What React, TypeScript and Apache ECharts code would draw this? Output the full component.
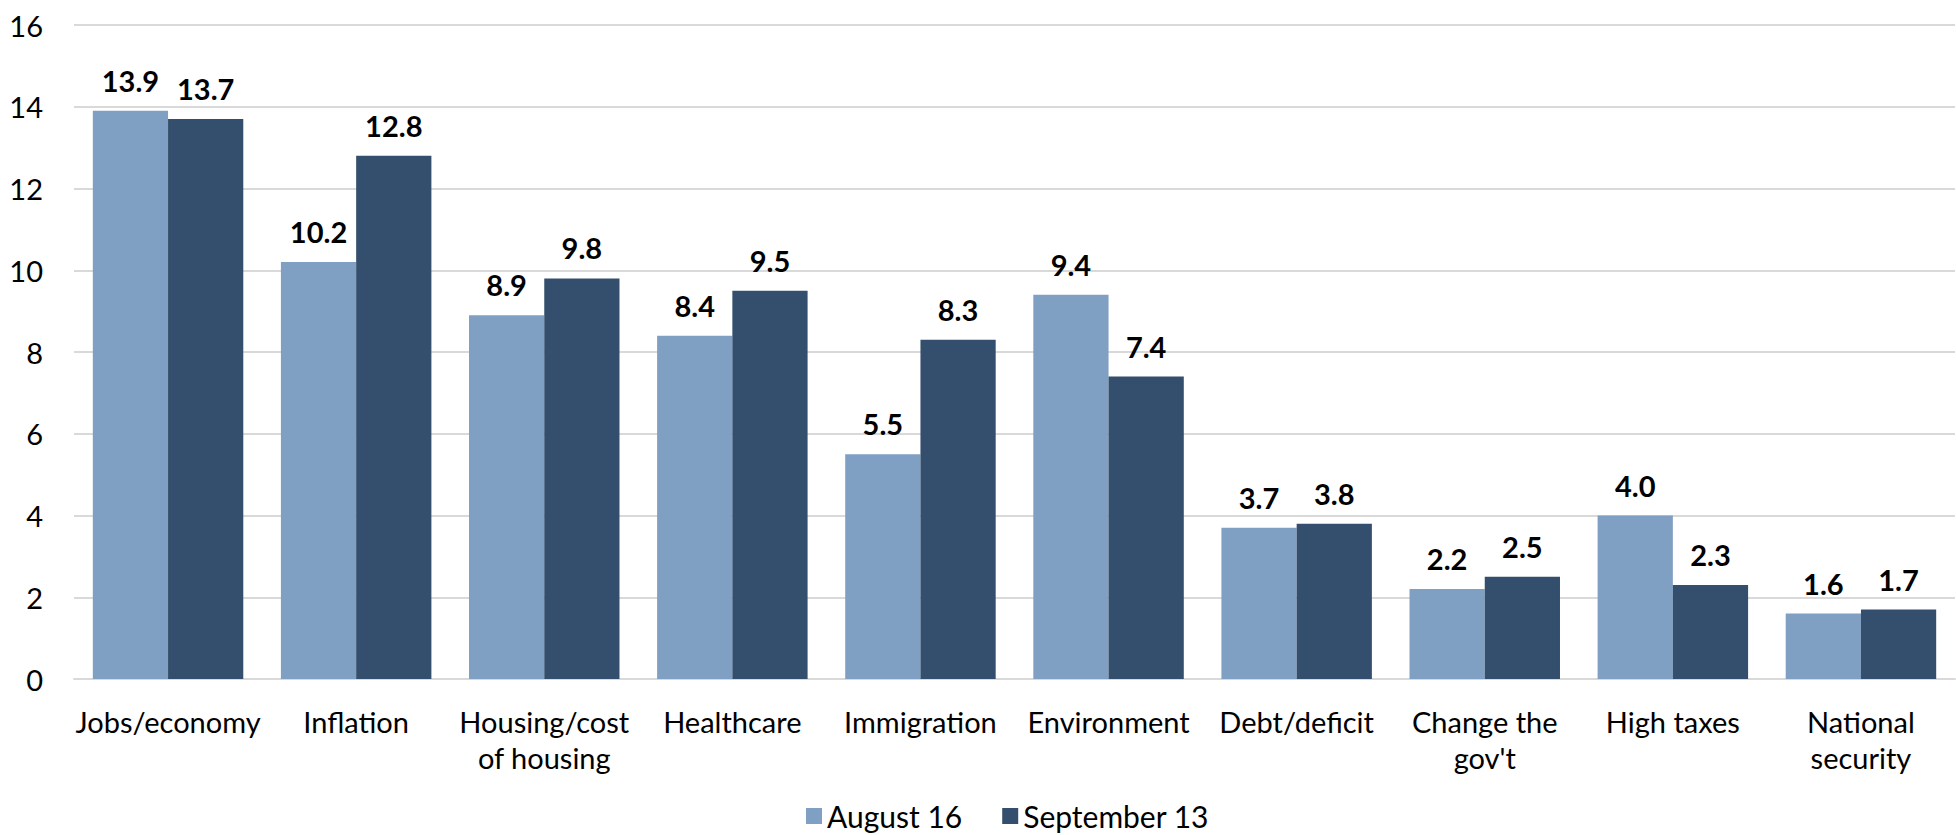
import React, { useEffect, useRef } from "react";
import * as echarts from "echarts";

const categories = [
  "Jobs/economy",
  "Inflation",
  "Housing/cost\nof housing",
  "Healthcare",
  "Immigration",
  "Environment",
  "Debt/deficit",
  "Change the\ngov't",
  "High taxes",
  "National\nsecurity",
];
const august16 = [13.9, 10.2, 8.9, 8.4, 5.5, 9.4, 3.7, 2.2, 4.0, 1.6];
const september13 = [13.7, 12.8, 9.8, 9.5, 8.3, 7.4, 3.8, 2.5, 2.3, 1.7];
const seriesNames = ["August 16", "September 13"];
const yTicks = { min: 0, max: 16, interval: 2 };

const FONT = "Lato";
const LIGHT = "#7F9FC3";
const DARK = "#344F6D";

export default function App() {
  const ref = useRef<HTMLDivElement>(null);
  useEffect(() => {
    if (!ref.current) return;
    const chart = echarts.init(ref.current, null, { renderer: "svg" });
    const label = {
      show: true,
      position: "top",
      distance: 16,
      fontFamily: FONT,
      fontSize: 29,
      fontWeight: "bold",
      color: "#000",
      formatter: (p: any) => Number(p.value).toFixed(1),
    };
    chart.setOption({
      animation: false,
      textStyle: { fontFamily: FONT },
      grid: { left: 74, right: 1, top: 25, bottom: 156, containLabel: false },
      legend: {
        bottom: 0,
        left: 801,
        padding: [2, 5, 2, 5],
        itemWidth: 16,
        itemHeight: 16,
        itemGap: 40,
        icon: "rect",
        textStyle: { fontFamily: FONT, fontSize: 30, lineHeight: 34, color: "#000" },
        data: seriesNames,
      },
      xAxis: {
        type: "category",
        data: categories,
        axisLine: { show: true, lineStyle: { color: "#D9D9D9", width: 2 } },
        axisTick: { show: false },
        axisLabel: {
          fontFamily: FONT,
          fontSize: 29,
          color: "#000",
          margin: 24,
          lineHeight: 36,
          interval: 0,
        },
      },
      yAxis: {
        type: "value",
        min: yTicks.min,
        max: yTicks.max,
        interval: yTicks.interval,
        axisLine: { show: false },
        axisTick: { show: false },
        splitLine: { lineStyle: { color: "#D9D9D9", width: 2 } },
        axisLabel: { fontFamily: FONT, fontSize: 29, color: "#000", margin: 31 },
      },
      series: [
        {
          name: seriesNames[0],
          type: "bar",
          data: august16,
          itemStyle: { color: LIGHT },
          barGap: "0%",
          barCategoryGap: "20%",
          label,
        },
        {
          name: seriesNames[1],
          type: "bar",
          data: september13,
          itemStyle: { color: DARK },
          barGap: "0%",
          barCategoryGap: "20%",
          label,
        },
      ],
    });
    return () => chart.dispose();
  }, []);
  return (
    <div
      ref={ref}
      style={{ position: "fixed", left: 0, top: 0, width: 1956, height: 835, background: "#fff" }}
    />
  );
}
